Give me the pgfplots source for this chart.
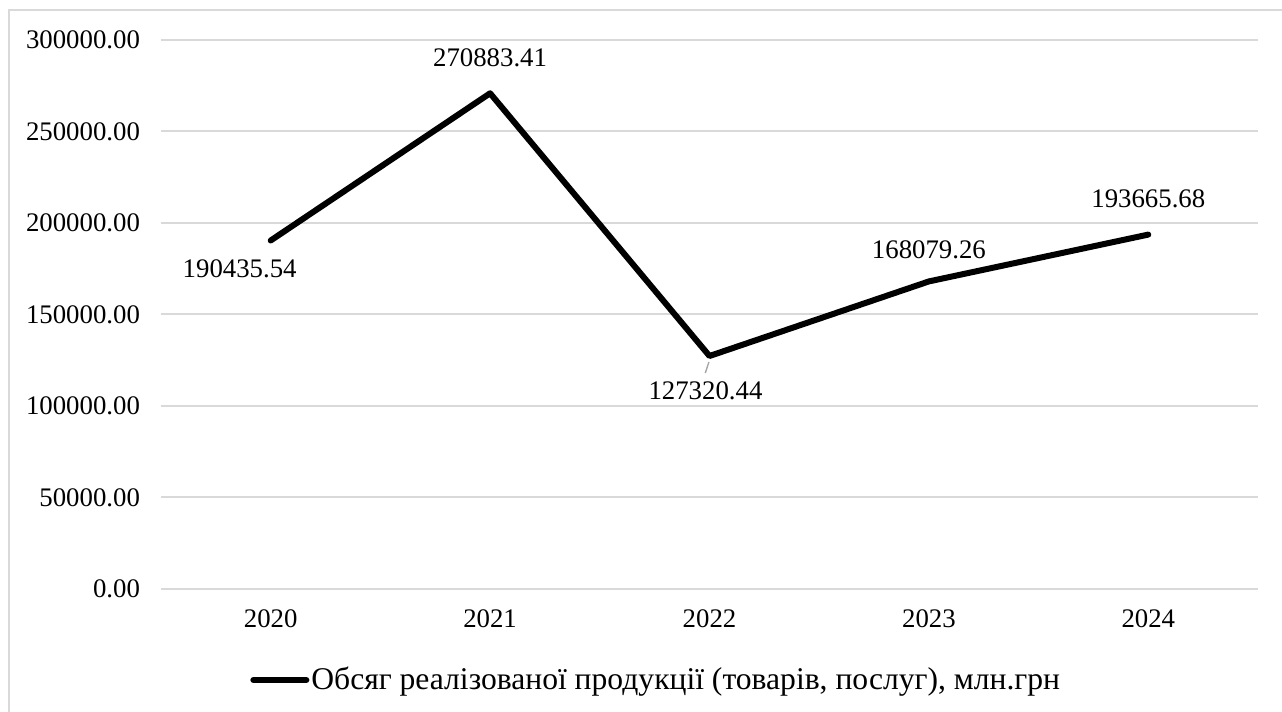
\documentclass[border=0pt]{standalone}
\usepackage{fontspec}
\setmainfont{Liberation Serif}
\usepackage{pgfplots}
\usepackage{pgfplotstable}
\pgfplotsset{compat=1.18}
\definecolor{gridgrey}{HTML}{D9D9D9}
\definecolor{leadgrey}{HTML}{A6A6A6}

% year index, value, label offset (pt)
\pgfplotstableread{
x y dx dy
0 190435.54 -15.5 -14
1 270883.41 0 18
2 127320.44 -2 -17.5
3 168079.26 0 16
4 193665.68 0 18
}\salesdata

\begin{document}
\begin{tikzpicture}
\useasboundingbox (-80.5pt,-61.5pt) rectangle (560.5pt,294.5pt);
% chart frame
\draw[gridgrey, line width=1pt] (600pt,289.5pt) -- (-76pt,289.5pt) -- (-76pt,-100pt);
\begin{axis}[
  scale only axis,
  width=548.5pt, height=274.5pt,
  xmin=-0.5, xmax=4.5,
  ymin=0, ymax=300000,
  xtick={0,1,2,3,4},
  xticklabels={2020,2021,2022,2023,2024},
  ytick={0,50000,...,300000},
  scaled y ticks=false,
  ymajorgrids,
  major grid style={gridgrey, line width=1pt},
  axis line style={draw=none},
  major tick length=0pt,
  /pgf/number format/assume math mode=true,
  yticklabel={\pgfmathprintnumber[fixed, fixed zerofill, precision=2, 1000 sep={}]{\tick}},
  tick label style={font=\fontsize{13.4}{15}\selectfont},
  yticklabel style={xshift=-7pt},
  xticklabel style={yshift=-7pt},
  legend style={draw=none, fill=none, at={(0.0811,-0.1658)}, anchor=west,
    inner sep=0pt, font=\fontsize{15.8}{19}\selectfont,
    nodes={inner xsep=1pt, inner ysep=2pt}},
  legend image code/.code={\draw[#1, line cap=round] (0pt,0pt) -- (26.5pt,0pt);},
  clip=false,
]
\addplot[black, line width=3pt, line join=round, line cap=round,
  nodes near coords,
  point meta=explicit symbolic,
  visualization depends on={\thisrow{dx} \as \dx},
  visualization depends on={\thisrow{dy} \as \dy},
  every node near coord/.append style={anchor=center, xshift=\dx pt, yshift=\dy pt,
    font=\fontsize{13.4}{15}\selectfont, text=black},
] table[x=x, y=y, meta=y] {\salesdata};
\addlegendentry{Обсяг реалізованої продукції (товарів, послуг), млн.грн}
% leader line for the 2022 label
\draw[leadgrey, line width=0.7pt] (axis cs:2,127320.44) ++(-0.3pt,-3pt) -- ++(-1.8pt,-5.5pt);
\end{axis}
\end{tikzpicture}
\end{document}
